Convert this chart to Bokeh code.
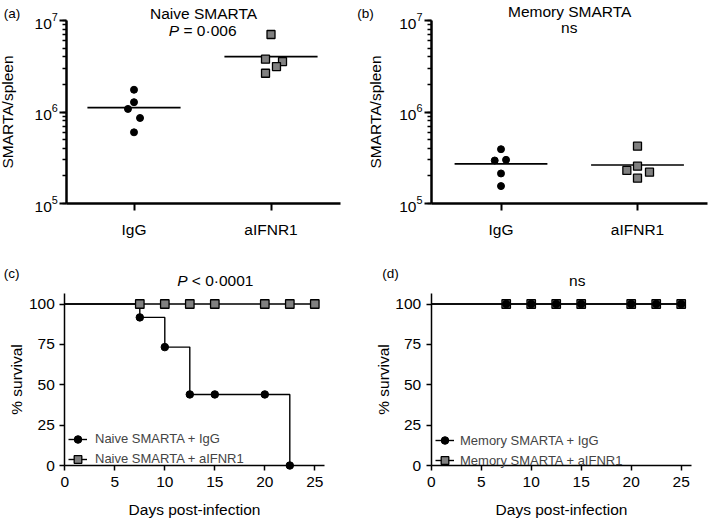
import numpy as np
from bokeh.plotting import figure
from bokeh.layouts import gridplot
from bokeh.models import Range1d, FixedTicker, LogTicker, Label, Legend, LegendItem
from bokeh.embed import file_html
from bokeh.resources import INLINE

FONT = "Liberation Sans"
GREY = "#808080"

# ---------------- data ----------------
groups = ["IgG", "aIFNR1"]

naive_igg = [1.75e6, 1.28e6, 1.08e6, 0.86e6, 0.60e6]
naive_ifnr = [7.03e6, 3.78e6, 3.56e6, 3.14e6, 2.65e6]
naive_igg_jitter = [0.0, 0.0, -0.044, 0.044, 0.0]
naive_ifnr_jitter = [0.0, -0.04, 0.084, 0.04, -0.04]

memory_igg = [3.92e5, 3.00e5, 2.95e5, 2.13e5, 1.55e5]
memory_ifnr = [4.23e5, 2.56e5, 2.30e5, 2.20e5, 1.89e5]
memory_igg_jitter = [0.0, 0.037, -0.046, 0.0, 0.0]
memory_ifnr_jitter = [0.0, 0.0, -0.078, 0.088, 0.0]

days_naive_igg = [0, 7.5, 10, 12.5, 15, 20, 22.5]
surv_naive_igg = [100, 91.7, 73.3, 44.0, 44.0, 44.0, 0]
days_naive_ifnr = [0, 7.5, 10, 12.5, 15, 20, 22.5, 25]
surv_naive_ifnr = [100, 100, 100, 100, 100, 100, 100, 100]

days_memory = [0, 7.5, 10, 12.5, 15, 20, 22.5, 25]
surv_memory_igg = [100, 100, 100, 100, 100, 100, 100, 100]
surv_memory_ifnr = [100, 100, 100, 100, 100, 100, 100, 100]

surv_xticks = [0, 5, 10, 15, 20, 25]
surv_yticks = [0, 25, 50, 75, 100]


# ---------------- layout helpers ----------------
def extent(pa, va, pb, vb, size):
    """data values at pixel 0 and pixel `size`, given two pixel anchors"""
    k = (vb - va) / (pb - pa)
    return va + (0 - pa) * k, va + (size - pa) * k


def make_fig(w, h, xanch, yanch, log_y=False):
    x0, x1 = extent(*xanch, w)
    ytop, ybot = extent(*yanch, h)
    if log_y:
        yr = Range1d(10 ** ybot, 10 ** ytop)
    else:
        yr = Range1d(ybot, ytop)
    p = figure(width=w, height=h, x_range=Range1d(x0, x1), y_range=yr,
               y_axis_type="log" if log_y else "linear",
               min_border=0, min_border_left=0, min_border_right=0,
               min_border_top=0, min_border_bottom=0,
               output_backend="svg", toolbar_location=None)
    p.grid.visible = False
    p.outline_line_color = None
    p.background_fill_color = "white"
    p.border_fill_color = "white"
    for ax in (p.xaxis[0], p.yaxis[0]):
        ax.axis_line_color = "black"
        ax.major_tick_line_color = "black"
        ax.minor_tick_line_color = "black"
        ax.major_label_text_color = "black"
        ax.major_label_text_font = FONT
        ax.major_label_text_font_size = "15.5px"
        ax.axis_label_text_font = FONT
        ax.axis_label_text_font_size = "15.5px"
        ax.axis_label_text_font_style = "normal"
        ax.axis_label_text_color = "black"
        ax.major_tick_in = 0
        ax.minor_tick_in = 0
    return p


TEXT_SHIFT = 5.0  # compensates the renderer's baseline placement


def add_text(p, fx, fy, text, size="15.5px", align="left", style="normal"):
    p.add_layout(Label(x=fx, y=p.height - fy + TEXT_SHIFT, x_units="screen", y_units="screen",
                       text=text, text_font=FONT, text_font_size=size,
                       text_font_style=style, text_align=align,
                       text_baseline="alphabetic", text_color="black"))


def scatter_panel(p, a_vals, a_jit, b_vals, b_jit, xlo, xhi):
    xa = [0 + j for j in a_jit]
    xb = [1 + j for j in b_jit]
    for i, vals in enumerate([a_vals, b_vals]):
        m = float(np.mean(vals))
        p.segment(x0=[i - 0.34], y0=[m], x1=[i + 0.34], y1=[m], line_color="black", line_width=1.7)
    p.scatter(xa, a_vals, marker="circle", size=7, fill_color="black", line_color="black")
    p.scatter(xb, b_vals, marker="square", size=8, fill_color=GREY, line_color="black", line_width=1.3)
    xa_ax = p.xaxis[0]
    xa_ax.fixed_location = 1e5
    xa_ax.bounds = (xlo, xhi)
    xa_ax.ticker = FixedTicker(ticks=[0, 1])
    xa_ax.major_label_overrides = {0: groups[0], 1: groups[1]}
    xa_ax.axis_line_width = 2.5
    xa_ax.major_tick_line_width = 2
    xa_ax.major_tick_out = 7
    xa_ax.major_label_standoff = 10
    ya = p.yaxis[0]
    ya.fixed_location = xlo
    ya.bounds = (1e5, 1e7)
    ya.ticker = LogTicker(num_minor_ticks=10)
    ya.axis_line_width = 2.5
    ya.major_tick_line_width = 2
    ya.minor_tick_line_width = 1.5
    ya.major_tick_out = 7
    ya.minor_tick_out = 4
    ya.major_label_standoff = 2
    ya.axis_label = "SMARTA/spleen"


def survival_panel(p, d1, s1, d2, s2, labels, leg_xy, leg_standoff):
    l1 = p.step(d1, s1, mode="after", line_color="black", line_width=1.4)
    l2 = p.step(d2, s2, mode="after", line_color="black", line_width=1.4)
    m2 = p.scatter(d2[1:], s2[1:], marker="square", size=8.5, fill_color=GREY,
                   line_color="black", line_width=1.3)
    m1 = p.scatter(d1[1:], s1[1:], marker="circle", size=7.5, fill_color="black",
                   line_color="black")
    xa = p.xaxis[0]
    xa.fixed_location = 0
    xa.bounds = (0, 26)
    xa.ticker = FixedTicker(ticks=surv_xticks)
    xa.axis_line_width = 1.5
    xa.major_tick_line_width = 1.5
    xa.major_tick_out = 5
    xa.major_label_standoff = 6
    xa.axis_label = "Days post-infection"
    xa.axis_label_standoff = 11
    ya = p.yaxis[0]
    ya.fixed_location = 0
    ya.bounds = (0, 106.5)
    ya.ticker = FixedTicker(ticks=surv_yticks)
    ya.axis_line_width = 1.5
    ya.major_tick_line_width = 1.5
    ya.major_tick_out = 5
    ya.major_label_standoff = 5
    ya.axis_label = "% survival"
    ya.axis_label_standoff = 1
    leg = Legend(items=[LegendItem(label=labels[0], renderers=[l1, m1]),
                        LegendItem(label=labels[1], renderers=[l2, m2])],
                 location=leg_xy, padding=0, margin=0, spacing=0,
                 glyph_width=19, glyph_height=20, label_height=20,
                 label_standoff=leg_standoff,
                 label_text_font=FONT, label_text_font_size="13px",
                 border_line_color=None, background_fill_alpha=0)
    p.add_layout(leg, "center")


# (a)  figure occupies page x 0-350, y 0-258
pa = make_fig(350, 258, (133.5, 0, 270.5, 1), (20, 7, 203, 5), log_y=True)
scatter_panel(pa, naive_igg, naive_igg_jitter, naive_ifnr, naive_ifnr_jitter, -0.49, 1.507)
pa.yaxis[0].axis_label_standoff = 15
add_text(pa, 3.3, 18, "(a)", size="13.5px")
add_text(pa, 203, 18.3, "Naive SMARTA", align="center")
add_text(pa, 168.3, 35, "P", style="italic")
add_text(pa, 183, 35, "= 0·006")

# (b)  page x 350-709, y 0-258
pb = make_fig(359, 258, (150.5, 0, 287, 1), (20, 7, 203, 5), log_y=True)
scatter_panel(pb, memory_igg, memory_igg_jitter, memory_ifnr, memory_ifnr_jitter, -0.509, 1.513)
pb.yaxis[0].axis_label_standoff = 12
add_text(pb, 6.7, 18, "(b)", size="13.5px")
add_text(pb, 219.2, 16, "Memory SMARTA", align="center")
add_text(pb, 218.8, 31.7, "ns", align="center")

# (c)  page x 0-350, y 258-518
pc = make_fig(350, 260, (64.3, 0, 314.3, 25), (207, 0, 45.5, 100))
survival_panel(pc, days_naive_igg, surv_naive_igg, days_naive_ifnr, surv_naive_ifnr,
               ["Naive SMARTA + IgG", "Naive SMARTA + aIFNR1"], (68, 49.5), 8)
add_text(pc, 3.3, 20, "(c)", size="13.5px")
add_text(pc, 176.7, 27, "P", style="italic")
add_text(pc, 191.3, 27, "< 0·0001")

# (d)  page x 350-709, y 258-518
pd_ = make_fig(359, 260, (80.7, 0, 330.7, 25), (207, 0, 45.5, 100))
survival_panel(pd_, days_memory, surv_memory_igg, days_memory, surv_memory_ifnr,
               ["Memory SMARTA + IgG", "Memory SMARTA + aIFNR1"], (85, 48), 6)
add_text(pd_, 31.7, 20, "(d)", size="13.5px")
add_text(pd_, 226.7, 27, "ns", align="center")

grid = gridplot([[pa, pb], [pc, pd_]], toolbar_location=None)
open("out.html", "w").write(file_html(grid, INLINE))
